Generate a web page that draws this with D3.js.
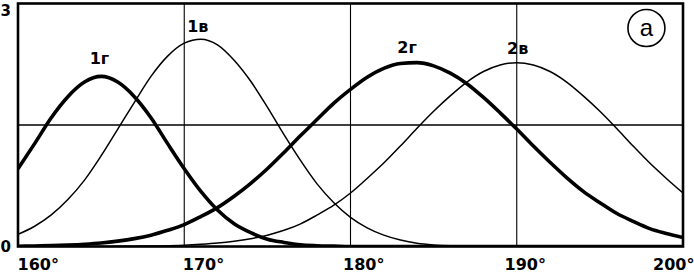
<!DOCTYPE html>
<html><head><meta charset="utf-8">
<script src="https://cdn.jsdelivr.net/npm/d3@7/dist/d3.min.js"></script>
<style>
body{margin:0;background:#fff;}
svg{display:block;}
</style></head>
<body>
<svg id="c" width="694" height="274"></svg>
<script>
// ---- data ----
const degrees = d3.range(160, 201); // 160..200 step 1
const s1g = [0.96,1.27,1.59,1.85,2.03,2.10,2.03,1.85,1.59,1.27,0.96,0.68,0.45,0.28,0.17,0.09,0.05,0.02,0.01,0.005,0,0,0,0,0,0,0,0,0,0,0,0,0,0,0,0,0,0,0,0,0];
const s1v = [0.15,0.25,0.39,0.58,0.82,1.12,1.45,1.78,2.10,2.35,2.51,2.56,2.49,2.30,2.04,1.72,1.38,1.06,0.77,0.54,0.36,0.23,0.14,0.08,0.04,0.02,0.01,0.005,0,0,0,0,0,0,0,0,0,0,0,0,0];
const s2g = [0.004,0.007,0.011,0.018,0.028,0.043,0.066,0.097,0.14,0.20,0.27,0.37,0.48,0.62,0.78,0.96,1.16,1.37,1.57,1.77,1.94,2.09,2.20,2.26,2.27,2.23,2.14,2.01,1.84,1.65,1.45,1.24,1.04,0.85,0.68,0.54,0.41,0.31,0.22,0.16,0.11];
const s2v = [0,0,0,0,0,0.001,0.002,0.004,0.006,0.010,0.016,0.027,0.042,0.065,0.097,0.14,0.20,0.28,0.39,0.51,0.66,0.84,1.03,1.24,1.46,1.67,1.86,2.03,2.16,2.24,2.27,2.24,2.16,2.03,1.86,1.67,1.46,1.24,1.03,0.84,0.66];
const seriesNames = ["1г","1в","2г","2в"];
const seriesThick = [true,false,true,false];
const seriesValues = [s1g,s1v,s2g,s2v];
const seriesLabelAt = [[164.9,2.1],[171.0,2.56],[183.7,2.27],[190.0,2.27]];
const xTicks = [160,170,180,190,200];
const xTickLabels = ["160°","170°","180°","190°","200°"];
const yTicks = [0,3];
const gridX = [170,180,190];
const gridY = [1.5];
const badge = "а";

// ---- layout ----
const svg = d3.select("#c");
const L = 18, R = 683, T = 3.5, B = 246.5;
const x = d3.scaleLinear().domain([160,200]).range([L,R]);
const y = d3.scaleLinear().domain([0,3]).range([B,T]);

svg.append("defs").append("clipPath").attr("id","clip")
  .append("rect").attr("x",L).attr("y",T).attr("width",R-L).attr("height",B-T);

// grid
svg.append("g").selectAll("line").data(gridX).join("line")
  .attr("x1",d=>x(d)).attr("x2",d=>x(d)).attr("y1",T).attr("y2",B)
  .attr("stroke","#000").attr("stroke-width",1.1);
svg.append("g").selectAll("line").data(gridY).join("line")
  .attr("x1",L).attr("x2",R).attr("y1",d=>y(d)).attr("y2",d=>y(d))
  .attr("stroke","#000").attr("stroke-width",1.5);

// curves
const line = d3.line().x(d=>x(d[0])).y(d=>y(d[1])).curve(d3.curveMonotoneX);
const gC = svg.append("g").attr("clip-path","url(#clip)");
seriesValues.forEach((vals,i)=>{
  gC.append("path").datum(degrees.map((d,j)=>[d,vals[j]]))
    .attr("d",line).attr("fill","none").attr("stroke","#000")
    .attr("stroke-width",seriesThick[i]?3.6:1.5)
    .attr("stroke-linejoin","round");
});

// frame
svg.append("rect").attr("x",L).attr("y",T).attr("width",R-L).attr("height",B-T)
  .attr("fill","none").attr("stroke","#000").attr("stroke-width",2.6);

// x axis labels
const xa = svg.append("g").attr("transform",`translate(0,${B})`)
  .call(d3.axisBottom(x).tickValues(xTicks).tickFormat((d,i)=>xTickLabels[i]).tickSize(0));
xa.select(".domain").remove();
const anchorFor = d => d===200 ? "end" : (d===190 ? "middle" : "start");
const dxFor = d => ({160:-1,170:-2,180:-8,190:8,200:11})[d];
xa.selectAll("text")
  .attr("font-family","DejaVu Sans, sans-serif").attr("font-weight","bold")
  .attr("font-size",16).attr("fill","#000")
  .attr("text-anchor",d=>anchorFor(d)).attr("dx",d=>dxFor(d))
  .attr("y",0).attr("dy",0).attr("transform","translate(0,23.5)");

// y axis labels
const ya = svg.append("g").attr("transform",`translate(${L},0)`)
  .call(d3.axisLeft(y).tickValues(yTicks).tickFormat(d3.format("d")).tickSize(0));
ya.select(".domain").remove();
ya.selectAll("text")
  .attr("font-family","DejaVu Sans, sans-serif").attr("font-weight","bold")
  .attr("font-size",15).attr("fill","#000")
  .attr("text-anchor","start").attr("x",-L+0.5)
  .attr("dy",0)
  .attr("transform",d=>`translate(0,${d===3?11.5:4.5})`);

// series labels
const lblOff = [[0,-12.5],[-3,-7],[-5,-10],[1,-9]];
svg.append("g").selectAll("text").data(seriesNames).join("text")
  .attr("x",(d,i)=>x(seriesLabelAt[i][0])+lblOff[i][0])
  .attr("y",(d,i)=>y(seriesLabelAt[i][1])+lblOff[i][1])
  .attr("text-anchor","middle")
  .attr("font-family","DejaVu Sans, sans-serif").attr("font-weight","bold")
  .attr("font-size",16).attr("fill","#000")
  .text(d=>d);

// badge
const bx = x(197.8), by = 28;
svg.append("circle").attr("cx",bx).attr("cy",by).attr("r",18.5)
  .attr("fill","#fff").attr("stroke","#000").attr("stroke-width",1.6);
svg.append("text").attr("x",bx).attr("y",by+7.5).attr("text-anchor","middle")
  .attr("font-family","Liberation Sans, Arial, sans-serif").attr("font-size",24)
  .attr("fill","#000").text(badge);
</script>
</body></html>
